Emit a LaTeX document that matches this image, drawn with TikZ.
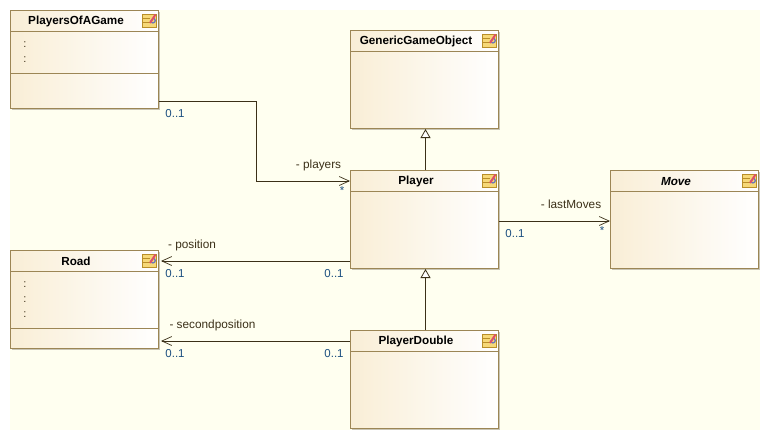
\documentclass[tikz,border=0pt]{standalone}
\usepackage{fontspec}
\setmainfont{Liberation Sans}
\usetikzlibrary{arrows.meta,shadows}

\definecolor{pagecream}{HTML}{FFFFF0}
\definecolor{boxedge}{HTML}{9C8655}
\definecolor{boxleft}{HTML}{F9EED6}
\definecolor{boxshade}{HTML}{C9C5B5}
\definecolor{linkcolor}{HTML}{3B3018}
\definecolor{multcolor}{HTML}{1C4F80}
\definecolor{icongold}{HTML}{F6D878}
\definecolor{iconedge}{HTML}{B88E28}
\definecolor{iconred}{HTML}{E0506A}
\definecolor{iconblue}{HTML}{6A78B8}

\tikzset{
	classbox/.style={draw=boxedge, line width=1pt, left color=boxleft, right color=white,
		minimum width=148pt, minimum height=98pt, anchor=north west, inner sep=0pt,
		drop shadow={shadow xshift=1.5pt, shadow yshift=-1.5pt, fill=boxshade, opacity=1}},
	classtitle/.style={font=\bfseries\fontsize{11.7}{13}\selectfont, inner sep=0pt},
	classrule/.style={draw=boxedge, line width=1pt},
	dotslabel/.style={font=\fontsize{11}{13}\selectfont, inner sep=0pt, text=linkcolor},
	rolelabel/.style={font=\fontsize{11.8}{13}\selectfont, inner sep=0pt, text=linkcolor},
	multlabel/.style={font=\fontsize{11.5}{13}\selectfont, inner sep=0pt, text=multcolor},
	assoc/.style={draw=linkcolor, line width=0.9pt, -{Straight Barb[length=10pt,width=9pt,line width=0.7pt]}},
	inherit/.style={draw=linkcolor, line width=1pt, -{Triangle[open,length=9pt,width=10pt,fill=white,line width=0.8pt]}},
	classicon/.pic={
		\draw[draw=iconedge, fill=icongold, line width=0.9pt] (-7,-6.5) rectangle (7,6.5);
		\foreach \ly in {-2.5,1.5}
			\draw[draw=iconedge, line width=0.8pt] (-7,\ly) -- (0,\ly);
		\draw[draw=iconblue, line width=1.3pt] (1,-0.5) arc (180:-60:2.4);
		\draw[draw=iconred, line width=2pt] (0.5,2) -- (6,-6.5);
	}
}

\begin{document}
\begin{tikzpicture}[x=1pt, y=-1pt]
	\useasboundingbox (0,0) rectangle (770,440);
	\fill[pagecream] (10,10) rectangle (760,430);

	\node[classbox] (players) at (10,10) {};
	\node[classbox] (generic) at (350,30) {};
	\node[classbox] (player) at (350,170) {};
	\node[classbox] (move) at (610,170) {};
	\node[classbox] (road) at (10,250) {};
	\node[classbox] (double) at (350,330) {};

	% title and icon of every class
	\foreach \cname/\ctitle in {players/PlayersOfAGame, generic/GenericGameObject, player/Player,
		move/\itshape Move, road/Road, double/PlayerDouble} {
		\node[classtitle] (\cname title) at ([xshift=-8.5pt,yshift=-11.5pt]\cname.north) {\ctitle};
		\draw[classrule] ([yshift=-21pt]\cname.north west) -- ([yshift=-21pt]\cname.north east);
		\pic at ([xshift=-9.5pt,yshift=-11pt]\cname.north east) {classicon};
	}

	% operations compartments
	\draw[classrule] ([yshift=-63pt]players.north west) -- ([yshift=-63pt]players.north east);
	\draw[classrule] ([yshift=-78pt]road.north west) -- ([yshift=-78pt]road.north east);

	\node[dotslabel] (playersdots1) at (25,45) {:};
	\node[dotslabel] (playersdots2) at (25,60) {:};
	\node[dotslabel] (roaddots1) at (25,285) {:};
	\node[dotslabel] (roaddots2) at (25,300) {:};
	\node[dotslabel] (roaddots3) at (25,315) {:};

	% connectors
	\coordinate (roadtop) at ([xshift=2pt,yshift=-11pt]road.north east);
	\coordinate (roadlow) at ([xshift=2pt,yshift=-91pt]road.north east);
	\draw[inherit] ([xshift=1pt]player.north) -- ([xshift=1pt]generic.south);
	\draw[inherit] ([xshift=1pt]double.north) -- ([xshift=1pt]player.south);
	\draw[assoc] ([yshift=8pt]players.south east) -- ++(97,0) |- ([yshift=-11pt]player.north west);
	\draw[assoc] ([yshift=-51pt]player.north east) -- ([yshift=-51pt]move.north west);
	\draw[assoc] (player.west |- roadtop) -- (roadtop);
	\draw[assoc] (double.west |- roadlow) -- (roadlow);

	% labels
	\node[multlabel] (m1) at (175,113.5) {0..1};
	\node[rolelabel] (r1) at (318.5,165.5) {- players};
	\node[multlabel] (m2) at (342,191) {*};
	\node[rolelabel] (r2) at (192,245.5) {- position};
	\node[multlabel] (m3) at (175,273.5) {0..1};
	\node[multlabel] (m4) at (334,273.5) {0..1};
	\node[rolelabel] (r3) at (212.5,325.5) {- secondposition};
	\node[multlabel] (m5) at (175,353.5) {0..1};
	\node[multlabel] (m6) at (334,353.5) {0..1};
	\node[rolelabel] (r4) at (571,204.5) {- lastMoves};
	\node[multlabel] (m7) at (515,233.5) {0..1};
	\node[multlabel] (m8) at (602,231) {*};
\end{tikzpicture}
\end{document}
